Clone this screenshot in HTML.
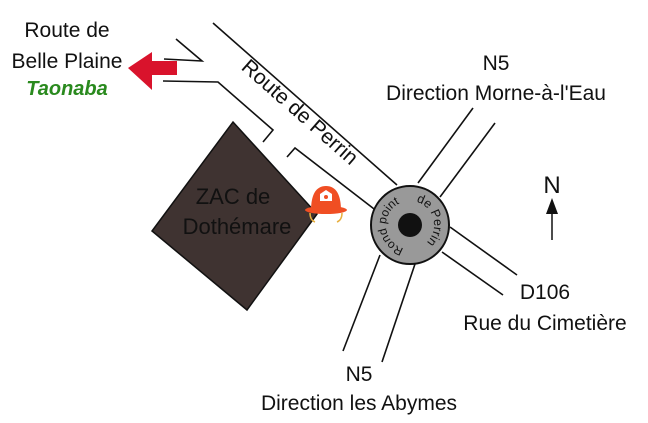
<!DOCTYPE html>
<html><head><meta charset="utf-8"><style>
html,body{margin:0;padding:0;background:#fff;}
svg{display:block;}
text{font-family:"Liberation Sans",Arial,sans-serif;fill:#111;}
</style></head><body>
<svg width="648" height="423" viewBox="0 0 648 423" xmlns="http://www.w3.org/2000/svg">
<g stroke="#111" stroke-width="1.6" fill="none">
  <polyline points="176,39 202,61 164,59"/>
  <line x1="213" y1="23" x2="397" y2="185"/>
  <polyline points="163,81 218,82 273,130 263,142"/>
  <polyline points="287,157 295,148 378,212"/>
  <line x1="418" y1="183" x2="473" y2="108"/>
  <line x1="440" y1="197" x2="495" y2="123"/>
  <line x1="450" y1="227" x2="517" y2="275"/>
  <line x1="442" y1="252" x2="503" y2="295"/>
  <line x1="380" y1="255" x2="343" y2="351"/>
  <line x1="415" y1="264" x2="382" y2="362"/>
</g>
<polygon points="233,122 317,214 247,310 152,231" fill="#3f3331" stroke="#111" stroke-width="1.5"/>
<polygon points="128,68 152,52 152,61 177,61 177,75 152,75 152,90" fill="#d9132c"/>
<circle cx="410" cy="225" r="39" fill="#999" stroke="#111" stroke-width="2"/>
<circle cx="410" cy="225" r="12" fill="#111"/>
<defs>
  <path id="arcL" d="M 403.8,248.2 A 24,24 0 0 1 406.2,201.3"/>
  <path id="arcR" d="M 416.2,201.8 A 24,24 0 0 1 428.4,240.4"/>
</defs>
<text font-size="12"><textPath href="#arcL">Rond point</textPath></text>
<text font-size="12.5"><textPath href="#arcR">de Perrin</textPath></text>
<g>
  <path d="M311,211 Q311,186 326,186 Q341,186 341,211 Z" fill="#f04e23"/>
  <ellipse cx="326" cy="210" rx="21" ry="4" fill="#f04e23"/>
  <polygon points="326,190 332,194 332,201 320,201 320,194" fill="#fff"/>
  <circle cx="326" cy="197" r="2" fill="#f04e23"/>
  <path d="M310,213 Q310,220 315,222" stroke="#e8b040" stroke-width="1.5" fill="none"/>
  <path d="M342,213 Q342,220 337,222" stroke="#e8b040" stroke-width="1.5" fill="none"/>
</g>
<text x="300" y="119" font-size="21" text-anchor="middle" transform="rotate(41.4 300 112)">Route de Perrin</text>
<text x="233" y="204" font-size="22" text-anchor="middle">ZAC de</text>
<text x="237" y="234" font-size="22" text-anchor="middle">Dothémare</text>
<text x="67" y="37" font-size="21" text-anchor="middle">Route de</text>
<text x="67" y="68" font-size="21" text-anchor="middle">Belle Plaine</text>
<text x="67" y="95" font-size="20" text-anchor="middle" font-style="italic" font-weight="bold" style="fill:#2a8a1e">Taonaba</text>
<text x="496" y="70" font-size="21" text-anchor="middle">N5</text>
<text x="496" y="100" font-size="21" text-anchor="middle">Direction Morne-à-l'Eau</text>
<text x="545" y="299" font-size="21" text-anchor="middle">D106</text>
<text x="545" y="330" font-size="21" text-anchor="middle">Rue du Cimetière</text>
<text x="359" y="381" font-size="21" text-anchor="middle">N5</text>
<text x="359" y="410" font-size="21" text-anchor="middle">Direction les Abymes</text>
<text x="552" y="193" font-size="24" text-anchor="middle">N</text>
<line x1="552" y1="210" x2="552" y2="240" stroke="#111" stroke-width="1.5"/>
<polygon points="552,198 546,214 558,214" fill="#111"/>
</svg>
</body></html>
